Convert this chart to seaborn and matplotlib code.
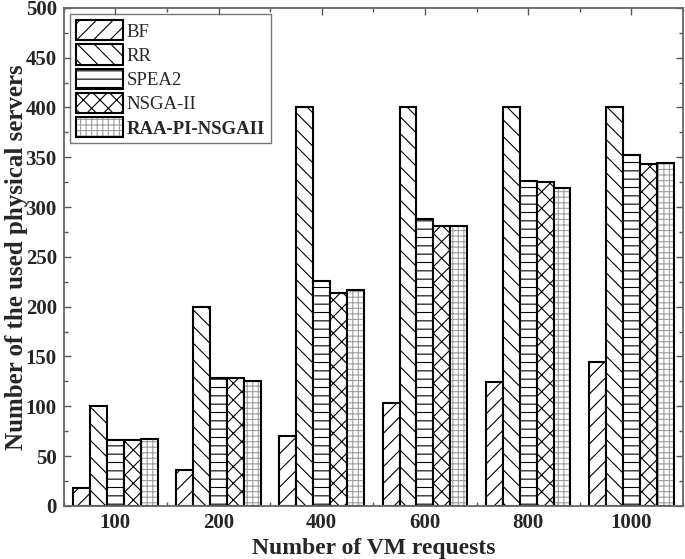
import pandas as pd
import matplotlib
matplotlib.use("Agg")
import matplotlib.pyplot as plt
import seaborn as sns

requests = ["100", "200", "400", "600", "800", "1000"]
methods = ["BF", "RR", "SPEA2", "NSGA-II", "RAA-PI-NSGAII"]
bf = [18, 36, 70, 103, 124, 144]
rr = [100, 200, 400, 400, 400, 400]
spea2 = [66, 128, 226, 288, 326, 352]
nsga2 = [66, 128, 214, 281, 325, 343]
raa = [67, 125, 217, 281, 319, 344]
hatches = ["//", "\\\\", "--", "xx", "+++"]

rows = []
for m, vals in zip(methods, [bf, rr, spea2, nsga2, raa]):
    for r, v in zip(requests, vals):
        rows.append({"requests": r, "servers": v, "method": m})
df = pd.DataFrame(rows)

sns.set_style("ticks")
plt.rcParams["font.family"] = ["Liberation Serif", "DejaVu Serif"]
plt.rcParams["hatch.linewidth"] = 0.8

fig = plt.figure(figsize=(6.85, 5.59), dpi=100)
ax = fig.add_axes([0.093, 0.095, 0.904, 0.891])

sns.barplot(data=df, x="requests", y="servers", hue="method",
            order=requests, hue_order=methods,
            palette=["white"] * 5, edgecolor="black", linewidth=1.5,
            width=0.82, gap=0, legend=False, ax=ax)

for cont, h, m in zip(ax.containers, hatches, methods):
    cont.set_label(m)
    for p in cont.patches:
        p.set_hatch(h)
        p.set_edgecolor("black")
        if m == "RAA-PI-NSGAII":
            p._hatch_color = (0.62, 0.62, 0.62, 1.0)

ax.set_ylim(0, 500)
ax.set_xlim(-0.5, 5.5)
ax.set_yticks(range(0, 501, 50))
ax.set_yticks(range(0, 501, 25), minor=True)
ax.set_xticks([x + 0.5 for x in range(-1, 6)], minor=True)
ax.tick_params(which="both", direction="in", top=True, right=True,
               color="#555555")
ax.tick_params(which="major", length=5, width=1, pad=5)
ax.tick_params(which="minor", length=3, width=1)
for s in ax.spines.values():
    s.set_color("#666666")
    s.set_linewidth(1.3)

for lab in ax.get_xticklabels() + ax.get_yticklabels():
    lab.set_fontweight("bold")
    lab.set_fontsize(15)

ax.set_xlabel("Number of VM requests", fontsize=17, fontweight="bold", labelpad=4)
ax.set_ylabel("Number of the used physical servers", fontsize=18,
              fontweight="bold")
ax.yaxis.set_label_coords(-0.057, 0.5)

handles = [c.patches[0] for c in ax.containers]
leg = ax.legend(handles, methods, loc="upper left", fontsize=13.5,
                frameon=True, fancybox=False, edgecolor="#555555",
                handlelength=2.5, handleheight=1.3, handletextpad=0.2,
                labelspacing=0.2, borderpad=0.3, borderaxespad=0.35)
leg.get_frame().set_linewidth(1.0)
leg.get_texts()[-1].set_fontweight("bold")

fig.savefig("out.png", dpi=100)
